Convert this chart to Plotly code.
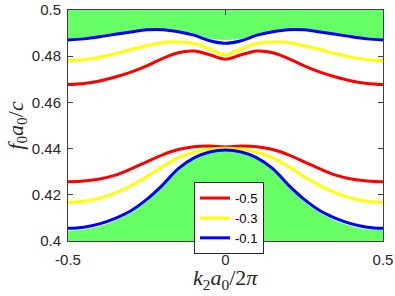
import plotly.graph_objects as go

k = [-0.5, -0.45, -0.4, -0.35, -0.3, -0.25, -0.2, -0.15, -0.1, -0.05, 0.0,
     0.05, 0.1, 0.15, 0.2, 0.25, 0.3, 0.35, 0.4, 0.45, 0.5]

red_up = [0.4677, 0.4682, 0.4693, 0.4710, 0.4731, 0.4758, 0.4790, 0.4815, 0.4822, 0.4806, 0.4787,
          0.4806, 0.4822, 0.4815, 0.4790, 0.4758, 0.4731, 0.4710, 0.4693, 0.4682, 0.4677]
yel_up = [0.4781, 0.4785, 0.4795, 0.4811, 0.4829, 0.4845, 0.4858, 0.4862, 0.4855, 0.4832, 0.4806,
          0.4832, 0.4855, 0.4862, 0.4858, 0.4845, 0.4829, 0.4811, 0.4795, 0.4785, 0.4781]
blu_up = [0.4870, 0.4875, 0.4884, 0.4895, 0.4905, 0.4914, 0.4915, 0.4906, 0.4891, 0.4867, 0.4856,
          0.4867, 0.4891, 0.4906, 0.4915, 0.4914, 0.4905, 0.4895, 0.4884, 0.4875, 0.4870]

red_lo = [0.4257, 0.4260, 0.4268, 0.4285, 0.4312, 0.4343, 0.4373, 0.4396, 0.4408, 0.4411, 0.4407,
          0.4411, 0.4408, 0.4396, 0.4373, 0.4343, 0.4312, 0.4285, 0.4268, 0.4260, 0.4257]
yel_lo = [0.4167, 0.4172, 0.4185, 0.4208, 0.4239, 0.4278, 0.4322, 0.4360, 0.4384, 0.4397, 0.4402,
          0.4397, 0.4384, 0.4360, 0.4322, 0.4278, 0.4239, 0.4208, 0.4185, 0.4172, 0.4167]
blu_lo = [0.4055, 0.4060, 0.4074, 0.4098, 0.4131, 0.4180, 0.4242, 0.4313, 0.4360, 0.4385, 0.4394,
          0.4385, 0.4360, 0.4313, 0.4242, 0.4180, 0.4131, 0.4098, 0.4074, 0.4060, 0.4055]

green_top = [0.4870, 0.4875, 0.4884, 0.4895, 0.4905, 0.4914, 0.4915, 0.4906, 0.4892, 0.4876, 0.4870,
             0.4876, 0.4892, 0.4906, 0.4915, 0.4914, 0.4905, 0.4895, 0.4884, 0.4875, 0.4870]
green_bot = [0.4045, 0.4050, 0.4064, 0.4088, 0.4122, 0.4172, 0.4236, 0.4308, 0.4357, 0.4383, 0.4392,
             0.4383, 0.4357, 0.4308, 0.4236, 0.4172, 0.4122, 0.4088, 0.4064, 0.4050, 0.4045]

y_top, y_bot = 0.5, 0.4
labels = ["-0.5", "-0.3", "-0.1"]
colors = ["#ff0000", "#ffff00", "#0000ff"]
xticks = [-0.5, 0, 0.5]
xticktext = ["-0.5", "0", "0.5"]
yticks = [0.4, 0.42, 0.44, 0.46, 0.48, 0.5]
yticktext = ["0.4", "0.42", "0.44", "0.46", "0.48", "0.5"]
x_title = "<i>k</i><sub>2</sub><i>a</i><sub>0</sub>/2<i>π</i>"
y_title = "<i>f</i><sub>0</sub><i>a</i><sub>0</sub>/<i>c</i>"

GREEN = "#66ff66"
fig = go.Figure()
fig.add_trace(go.Scatter(x=k + k[::-1], y=green_top + [y_top] * len(k), fill="toself",
                         fillcolor=GREEN, line=dict(width=0, shape="spline"), mode="lines",
                         showlegend=False, hoverinfo="skip"))
fig.add_trace(go.Scatter(x=k + k[::-1], y=green_bot + [y_bot] * len(k), fill="toself",
                         fillcolor=GREEN, line=dict(width=0, shape="spline"), mode="lines",
                         showlegend=False, hoverinfo="skip"))

for up, lo, name, col in zip([red_up, yel_up, blu_up], [red_lo, yel_lo, blu_lo], labels, colors):
    fig.add_trace(go.Scatter(x=k, y=up, mode="lines", line=dict(color=col, width=3, shape="spline"),
                             name=name, legendgroup=name, showlegend=True))
    fig.add_trace(go.Scatter(x=k, y=lo, mode="lines", line=dict(color=col, width=3, shape="spline"),
                             name=name, legendgroup=name, showlegend=False))

axis_common = dict(showline=True, mirror="ticks", linecolor="#404040", linewidth=1,
                   ticks="inside", ticklen=5, tickcolor="#404040", showgrid=False, zeroline=False,
                   automargin=False,
                   tickfont=dict(family="Liberation Sans, Arial", size=15, color="#262626"))

fig.update_xaxes(range=[-0.5, 0.5], tickvals=xticks, ticktext=xticktext, ticklabelstandoff=5,
                 **axis_common)
fig.update_yaxes(range=[0.4, 0.5], tickvals=yticks, ticktext=yticktext, ticklabelstandoff=3,
                 title=dict(text=y_title,
                            font=dict(family="Liberation Serif, serif", size=22, color="#262626"),
                            standoff=2),
                 **axis_common)

fig.add_annotation(text=x_title, xref="paper", yref="paper", x=0.5, y=-0.165,
                   xanchor="center", yanchor="middle", showarrow=False,
                   font=dict(family="Liberation Serif, serif", size=22, color="#262626"))

fig.update_layout(
    width=395, height=296,
    margin=dict(l=68, r=12, t=10, b=55, autoexpand=False),
    paper_bgcolor="white", plot_bgcolor="white",
    legend=dict(x=0.40, y=0.255, xanchor="left", yanchor="top",
                bgcolor="white", bordercolor="#262626", borderwidth=1,
                font=dict(family="Liberation Sans, Arial", size=13, color="#000000"),
                tracegroupgap=0, itemwidth=30),
    showlegend=True,
)

fig.write_html("out.html", config={"displayModeBar": False},
               post_script="document.body.style.margin='0';")
